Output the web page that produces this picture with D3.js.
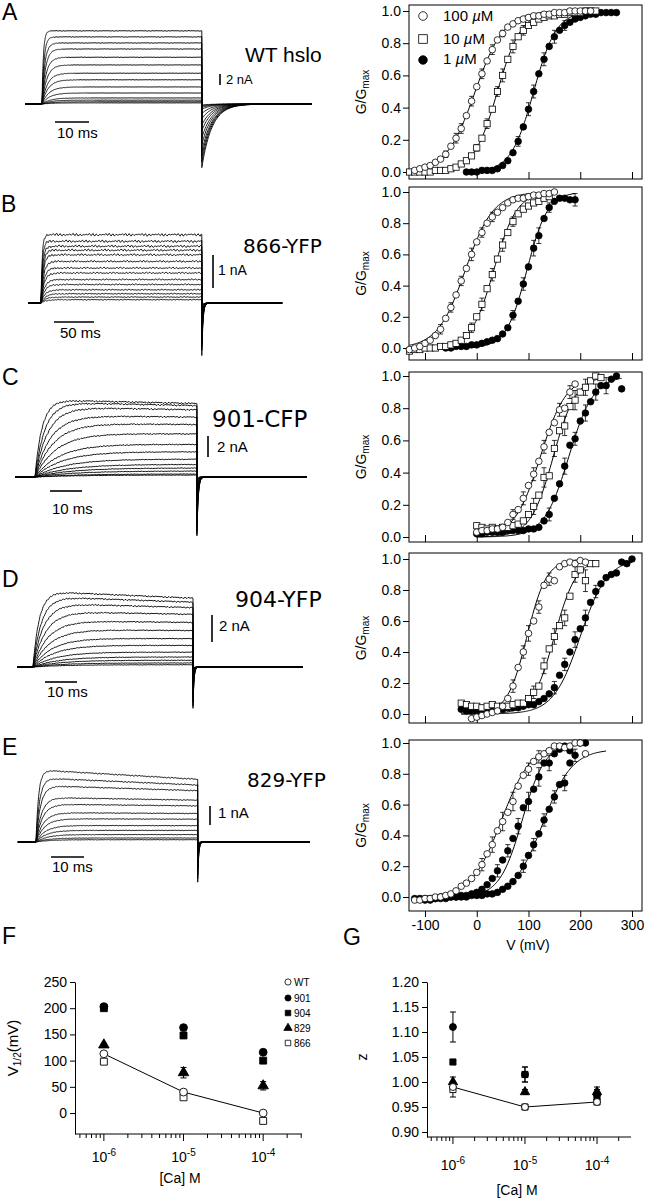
<!DOCTYPE html>
<html>
<head>
<meta charset="utf-8">
<script src="https://d3js.org/d3.v7.min.js"></script>
<style>
body { margin: 0; background: #fff; }
svg { display: block; }
</style>
</head>
<body>
<svg id="fig" width="645" height="1199"></svg>
<script>
// ---------- current traces (A-E, left) ----------
// end-of-pulse amplitude of each trace, nA, largest first
const ampA = [13.3, 12.2, 11.1, 10.0, 8.5, 7.1, 5.6, 4.4, 3.1, 2.0, 1.1, 0.7, 0.4, 0.2];
const ampB = [2.07, 1.87, 1.72, 1.6, 1.46, 1.26, 1.06, 0.91, 0.71, 0.56, 0.4, 0.28, 0.18, 0.1];
const ampC = [7.0, 6.8, 6.4, 5.7, 5.0, 4.1, 3.1, 2.4, 1.7, 1.2, 0.86, 0.57, 0.29, 0.19];
const ampD = [5.1, 4.8, 4.4, 3.9, 3.3, 2.7, 2.1, 1.6, 1.1, 0.74, 0.5, 0.3, 0.17];
const ampE = [3.3, 3.0, 2.7, 2.2, 1.9, 1.5, 1.2, 0.86, 0.61, 0.39, 0.21, 0.12];
// kinetics
const pulseMs = [47, 201, 50.6, 50, 49];
const tauAct = [[0.4, 3], [1.5, 6], [2.2, 14], [2, 10], [0.8, 4]];   // top / bottom trace, ms
const sagTop = [0.0, 0.0, 0.05, 0.1, 0.15];
const tailRatio = [0.87, 0.77, 0.8, 0.6, 0.64];
const tailTau = [3, 1.5, 0.4, 0.3, 0.3];
const noiseNa = [0.08, 0.05, 0.1, 0.07, 0.04];
const traceNames = ["WT hslo", "866-YFP", "901-CFP", "904-YFP", "829-YFP"];
const barNa = [2, 1, 2, 2, 1];
const barMs = [10, 50, 10, 10, 10];

// ---------- G/Gmax vs V (right) ----------
const vStep = 10;
const A_g100 = [0.01,0.02,0.03,0.04,0.06,0.08,0.11,0.16,0.21,0.27,0.35,0.44,0.53,0.61,0.69,0.76,0.82,0.86,0.9,0.92,0.94,0.95,0.96,0.97,0.97,0.98,0.98,0.99,0.99,0.99,1.0,1.0,1.0,1.0,1.0];
const A_g10 = [0,0,0,0,0,0.01,0.01,0.01,0.02,0.03,0.05,0.07,0.1,0.15,0.21,0.3,0.39,0.5,0.6,0.7,0.78,0.84,0.88,0.91,0.93,0.95,0.96,0.97,0.97,0.98,0.98,0.99,0.99,0.99,1.0,1.0,1.0];
const A_g1 = [0,0,0,0.01,0.01,0.01,0.02,0.04,0.07,0.12,0.19,0.28,0.39,0.5,0.61,0.7,0.78,0.84,0.88,0.91,0.93,0.95,0.96,0.97,0.98,0.98,0.99,0.99,0.99,0.99];
const B_g100 = [-0.01,0,0.01,0.03,0.05,0.08,0.12,0.19,0.26,0.34,0.43,0.51,0.6,0.68,0.74,0.8,0.84,0.87,0.9,0.93,0.95,0.96,0.96,0.97,0.98,0.98,0.99,0.99,1.0];
const B_g10 = [-0.02,-0.01,-0.01,0,0,0,0.01,0.01,0.02,0.03,0.05,0.08,0.13,0.2,0.28,0.38,0.47,0.57,0.66,0.74,0.81,0.86,0.89,0.91,0.93,0.94,0.96,0.97];
const B_g1 = [0,0,0.01,0.01,0.01,0.02,0.02,0.03,0.04,0.05,0.06,0.09,0.13,0.21,0.3,0.41,0.52,0.64,0.72,0.83,0.9,0.94,0.96,0.96,0.95,0.95];
const C_g100 = [0.03,0.04,0.04,0.05,0.05,0.06,0.09,0.14,0.17,0.24,0.32,0.39,0.47,0.56,0.65,0.71,0.79,0.8,0.9,0.95];
const C_g10 = [0.07,0.06,0.05,0.06,0.05,0.06,0.06,0.07,0.08,0.1,0.14,0.19,0.26,0.37,0.38,0.55,0.66,0.69,0.81,0.85,0.9,0.93,0.97,1.0,0.99];
const C_g1 = [0.02,0.02,0.03,0.03,0.03,0.03,0.04,0.04,0.04,0.04,0.05,0.05,0.06,0.1,0.14,0.24,0.33,0.44,0.57,0.61,0.72,0.77,0.84,0.9,0.94,0.94,0.98,1.0,0.92];
const D_g100 = [-0.03,-0.02,-0.01,0,0.01,0.02,0.05,0.1,0.18,0.3,0.4,0.52,0.6,0.69,0.83,0.87,0.86,0.95,0.97,0.98,0.97,0.99,0.98];
const D_g10 = [0.07,0.06,0.05,0.05,0.04,0.05,0.06,0.05,0.05,0.05,0.06,0.07,0.07,0.1,0.14,0.18,0.31,0.42,0.5,0.57,0.62,0.76,0.9,0.93,0.86,0.97,0.97];
const D_g1 = [0.03,0.02,0.02,0.02,0.02,0.03,0.03,0.03,0.03,0.04,0.04,0.04,0.05,0.06,0.06,0.08,0.1,0.13,0.17,0.25,0.32,0.4,0.48,0.55,0.62,0.72,0.79,0.84,0.88,0.9,0.91,0.98,0.97,1.0];
const E_g100 = [-0.02,-0.02,-0.01,-0.01,0,0,0.01,0.02,0.04,0.07,0.09,0.12,0.16,0.21,0.28,0.34,0.43,0.49,0.55,0.62,0.72,0.79,0.83,0.88,0.91,0.93,0.95,0.98,0.98,0.97,0.98,1.0,1.0,0.93];
const E_gMid = [-0.01,-0.01,-0.02,-0.01,-0.01,0,-0.01,0,0,0.01,0.01,0.02,0.03,0.05,0.08,0.12,0.17,0.24,0.3,0.38,0.46,0.58,0.62,0.7,0.78,0.87,0.87,0.93,0.96,0.98,0.95];
const E_g1 = [-0.01,-0.02,-0.01,-0.01,0,0,0,0,0,0.01,0.01,0.01,0.02,0.02,0.03,0.05,0.07,0.1,0.14,0.2,0.27,0.34,0.41,0.5,0.57,0.65,0.73,0.74,0.87,0.92,1.0,1.0];
// first voltage of each series (mV)
const gvStart = [[-120, -130, -20], [-130, -130, -60], [0, 0, 0], [-10, -30, -30], [-120, -120, -100]];
// Boltzmann fits: V1/2, slope k, Gmax, V from, V to
const gvFit = [
  [[-3, 28, 1, -120, 220], [40, 23, 1, -130, 230], [110, 22, 1, -20, 270]],
  [[-22, 27, 1, -130, 150], [33, 22, 1, -130, 140], [97, 20, 1, -60, 190]],
  [[123, 25, 1, 0, 190], [148, 22, 1, 0, 240], [178, 24, 1, 0, 280]],
  [[97, 19, 1, -10, 210], [150, 21, 1, -30, 230], [200, 26, 1, -30, 300]],
  [[48, 29, 1, -120, 210], [88, 22, 1, -120, 180], [128, 28, 0.96, -100, 250]]
];
// error bars: [V, sem]
const gvErr = [
  [[[-60,0.02],[-40,0.03],[-30,0.03],[-10,0.03],[10,0.03],[30,0.03],[50,0.02]],
   [[0,0.02],[20,0.03],[40,0.03],[50,0.04],[70,0.04],[90,0.03]],
   [[80,0.03],[100,0.04],[110,0.04],[130,0.04],[150,0.04],[170,0.03]]],
  [[[-70,0.03],[-50,0.03],[-30,0.03],[-10,0.04],[10,0.03],[30,0.03]],
   [[-10,0.03],[10,0.04],[30,0.04],[50,0.04],[70,0.03]],
   [[70,0.03],[90,0.04],[110,0.05],[120,0.05],[140,0.03],[190,0.04]]],
  [[[70,0.03],[90,0.04],[110,0.04],[130,0.04],[160,0.04],[180,0.04]],
   [[110,0.05],[130,0.06],[150,0.05],[170,0.06],[190,0.06],[210,0.05]],
   [[140,0.04],[170,0.05],[190,0.04],[210,0.05],[230,0.05],[250,0.05]]],
  [[[70,0.04],[90,0.04],[100,0.05],[120,0.04],[140,0.04]],
   [[110,0.04],[130,0.05],[150,0.05],[170,0.05],[190,0.05],[210,0.07]],
   [[150,0.04],[170,0.04],[190,0.05],[210,0.05],[230,0.04]]],
  [[[10,0.04],[30,0.05],[50,0.06],[70,0.06],[100,0.04],[120,0.04]],
   [[40,0.04],[60,0.04],[80,0.05],[100,0.06],[120,0.06],[140,0.05]],
   [[90,0.04],[110,0.04],[130,0.04],[150,0.04],[170,0.05],[190,0.04]]]
];
const gvSeries = [[A_g100, A_g10, A_g1], [B_g100, B_g10, B_g1], [C_g100, C_g10, C_g1], [D_g100, D_g10, D_g1], [E_g100, E_gMid, E_g1]];
const gvMarks = [["open", "sq", "fill"], ["open", "sq", "fill"], ["open", "sq", "fill"], ["open", "sq", "fill"], ["open", "fill", "fill"]];
const gvTicksV = [-100, 0, 100, 200, 300];
const gvTicksG = [0, 0.2, 0.4, 0.6, 0.8, 1.0];
const legendGV = ["100 \u00b5M", "10 \u00b5M", "1 \u00b5M"];

// ---------- F / G ----------
const caConc = [1e-6, 1e-5, 1e-4];
const mutNames = ["WT", "901", "904", "829", "866"];
const vhWT = [113, 40, 0], vh901 = [203, 163, 116], vh904 = [200, 148, 100], vh829 = [130, 77, 52], vh866 = [98, 30, -15];
const vhErrWT = [3, 3, 3], vhErr901 = [3, 3, 3], vhErr904 = [3, 3, 3], vhErr829 = [3, 10, 8], vhErr866 = [3, 3, 3];
const zWT = [0.99, 0.95, 0.96], z901 = [1.11, 1.015, 0.975], z904 = [1.04, 1.015, 0.97], z829 = [1.0, 0.98, 0.98], z866 = [0.985, 0.95, 0.96];
const zErrWT = [0.01, 0.003, 0.005], zErr901 = [0.03, 0.015, 0.01], zErr904 = [0.005, 0.015, 0.01], zErr829 = [0.01, 0.005, 0.01], zErr866 = [0.015, 0.003, 0.005];
const vhTicks = [0, 50, 100, 150, 200, 250];
const zTicks = [0.90, 0.95, 1.00, 1.05, 1.10, 1.15, 1.20];

// ================= drawing =================
const SANS = "'Liberation Sans', Arial, Helvetica, sans-serif";
const DJV = "'DejaVu Sans', Verdana, sans-serif";
const svg = d3.select("#fig").attr("font-family", SANS);
svg.append("rect").attr("width", 645).attr("height", 1199).attr("fill", "#fff");

// panel letters
const letters = [["A", 2, 20], ["B", 1, 212], ["C", 2, 385], ["D", 2, 587], ["E", 2, 755], ["F", 2, 944], ["G", 343, 945]];
letters.forEach(l => svg.append("text").attr("x", l[1]).attr("y", l[2]).attr("font-size", 23).text(l[0]));

// ---- traces ----
const traceLayout = [
  {x0: 42, pxMs: 3.4, base: 104, pxNa: 5.5, t: [-5, 79.7], naBar: [220, 85], naText: [226, 84, 13], msBar: [55, 122], msText: [57, 138], name: [245, 62, 21, SANS]},
  {x0: 41, pxMs: 0.8, base: 303, pxNa: 33, t: [-16, 302], naBar: [213, 288], naText: [218, 275, 14], msBar: [54, 322], msText: [60, 338], name: [243, 253, 20, DJV]},
  {x0: 35, pxMs: 3.2, base: 477, pxNa: 10.5, t: [-6.25, 85.3], naBar: [208, 457], naText: [217, 452, 15], msBar: [50, 491], msText: [52, 514], name: [212, 427, 23, DJV]},
  {x0: 33, pxMs: 3.2, base: 667, pxNa: 13.5, t: [-5, 84.4], naBar: [212, 642], naText: [219, 631, 15], msBar: [45, 682], msText: [47, 697], name: [235, 607, 22, DJV]},
  {x0: 36, pxMs: 3.3, base: 842, pxNa: 19, t: [-5.5, 83], naBar: [210, 825], naText: [218, 818, 15], msBar: [51, 857], msText: [52, 872], name: [247, 787, 20, DJV]}
];
const traceAmps = [ampA, ampB, ampC, ampD, ampE];

function wiggle(xp, j) {
  return 0.5 * Math.sin(1.91 * xp + 0.7 * j) + 0.3 * Math.sin(4.73 * xp + 1.9 * j) + 0.2 * Math.sin(0.37 * xp + 2.3 * j);
}

traceLayout.forEach((L, i) => {
  const amps = traceAmps[i];
  const x = d3.scaleLinear().domain([0, 1]).range([L.x0, L.x0 + L.pxMs]);
  const y = d3.scaleLinear().domain([0, 1]).range([L.base, L.base - L.pxNa]);
  const dur = pulseMs[i], tt = tailTau[i];
  const g = svg.append("g");
  const line = d3.line().x(d => x(d[0])).y(d => y(d[1]));
  amps.forEach((a, j) => {
    const frac = j / (amps.length - 1);
    const tau = tauAct[i][0] + (tauAct[i][1] - tauAct[i][0]) * frac;
    const rel = a / amps[0];
    const sag = sagTop[i] * rel * rel;
    const peak = a * (1 + sag);
    let ts = d3.range(L.t[0], L.t[1], 1 / L.pxMs)
      .concat(d3.range(0, Math.min(dur, 6 * tau), tau / 12))
      .concat(d3.range(dur, Math.min(L.t[1], dur + 8 * tt), tt / 12))
      .concat([-1e-6, 0, dur, dur + 1e-6]);
    ts = Array.from(new Set(ts)).sort((p, q) => p - q);
    const nAmp = noiseNa[i] * (0.3 + 0.7 * rel);
    const pts = ts.map(t => {
      let v;
      if (t < 0) v = 0;
      else if (t <= dur) v = peak * (1 - Math.exp(-t / tau)) * (1 - (sag / (1 + sag)) * (t / dur));
      else v = -tailRatio[i] * a * Math.exp(-(t - dur) / tt);
      const w = (t > 0 && t <= dur) ? nAmp : noiseNa[i] * 0.2;
      return [t, v + w * wiggle(x(t), j)];
    });
    g.append("path").datum(pts).attr("d", line)
      .attr("fill", "none").attr("stroke", "#000").attr("stroke-width", 0.9);
  });
  // scale bars
  const yb = d3.scaleLinear().domain([0, 1]).range([L.naBar[1], L.naBar[1] - L.pxNa]);
  g.append("line").attr("x1", L.naBar[0]).attr("x2", L.naBar[0]).attr("y1", yb(0)).attr("y2", yb(barNa[i]))
    .attr("stroke", "#000").attr("stroke-width", 1.6);
  g.append("text").attr("x", L.naText[0]).attr("y", L.naText[1]).attr("font-size", L.naText[2]).text(barNa[i] + " nA");
  const xb = d3.scaleLinear().domain([0, 1]).range([L.msBar[0], L.msBar[0] + L.pxMs]);
  g.append("line").attr("x1", xb(0)).attr("x2", xb(barMs[i])).attr("y1", L.msBar[1]).attr("y2", L.msBar[1])
    .attr("stroke", "#000").attr("stroke-width", 1.6);
  g.append("text").attr("x", L.msText[0]).attr("y", L.msText[1]).attr("font-size", 15).text(barMs[i] + " ms");
  g.append("text").attr("x", L.name[0]).attr("y", L.name[1]).attr("font-size", L.name[2])
    .attr("font-family", L.name[3]).text(traceNames[i]);
});

// ---- G/Gmax panels ----
const gvLayout = [
  {top: 5, bottom: 179, y0: 172, y1: 11},
  {top: 187, bottom: 360, y0: 348, y1: 192},
  {top: 372, bottom: 542, y0: 537, y1: 376},
  {top: 553, bottom: 723, y0: 714, y1: 559},
  {top: 740, bottom: 911, y0: 897, y1: 743}
];
const frameL = 409, frameR = 642;
const gvX = d3.scaleLinear().domain([-100, 300]).range([425, 632]);

function drawMark(g, type, cx, cy, s) {
  if (type === "sq") {
    g.append("rect").attr("x", cx - s).attr("y", cy - s).attr("width", 2 * s).attr("height", 2 * s)
      .attr("fill", "#fff").attr("stroke", "#000").attr("stroke-width", 0.8);
  } else {
    g.append("circle").attr("cx", cx).attr("cy", cy).attr("r", s)
      .attr("fill", type === "fill" ? "#000" : "#fff").attr("stroke", "#000").attr("stroke-width", 0.8);
  }
}

gvLayout.forEach((L, i) => {
  const y = d3.scaleLinear().domain([0, 1]).range([L.y0, L.y1]);
  const g = svg.append("g");
  g.append("rect").attr("x", frameL).attr("y", L.top).attr("width", frameR - frameL).attr("height", L.bottom - L.top)
    .attr("fill", "none").attr("stroke", "#000").attr("stroke-width", 1);
  g.append("g").attr("transform", `translate(${frameL},0)`)
    .call(d3.axisLeft(y).tickValues(gvTicksG).tickFormat(d3.format(".1f")).tickSize(6).tickPadding(2))
    .call(a => a.select(".domain").remove())
    .attr("font-size", 14).attr("font-family", SANS);
  const last = i === gvLayout.length - 1;
  g.append("g").attr("transform", `translate(0,${L.bottom})`)
    .call(d3.axisBottom(gvX).tickValues(gvTicksV).tickSize(last ? 6 : -7).tickPadding(3)
      .tickFormat(last ? (d => String(d)) : () => ""))
    .call(a => a.select(".domain").remove())
    .attr("font-size", 14).attr("font-family", SANS);
  g.append("text").attr("transform", `translate(366,${(L.top + L.bottom) / 2}) rotate(-90)`)
    .attr("text-anchor", "middle").attr("font-size", 14)
    .call(t => { t.append("tspan").text("G/G"); t.append("tspan").attr("dy", 3).attr("font-size", 10).text("max"); });

  const order = [2, 1, 0];
  // fit lines
  order.forEach(c => {
    const f = gvFit[i][c];
    const pts = d3.range(f[3], f[4] + 0.1, 2).map(v => [v, f[2] / (1 + Math.exp(-(v - f[0]) / f[1]))]);
    g.append("path").datum(pts).attr("d", d3.line().x(d => gvX(d[0])).y(d => y(d[1])))
      .attr("fill", "none").attr("stroke", "#000").attr("stroke-width", 1);
  });
  // error bars
  order.forEach(c => {
    const data = gvSeries[i][c], v0 = gvStart[i][c];
    gvErr[i][c].forEach(([v, e]) => {
      const k = Math.round((v - v0) / vStep);
      if (k < 0 || k >= data.length) return;
      const cx = gvX(v), gv = data[k];
      [gv - e, gv + e].forEach(end => {
        g.append("line").attr("x1", cx).attr("x2", cx).attr("y1", y(gv)).attr("y2", y(end)).attr("stroke", "#000").attr("stroke-width", 0.8);
        g.append("line").attr("x1", cx - 2.5).attr("x2", cx + 2.5).attr("y1", y(end)).attr("y2", y(end)).attr("stroke", "#000").attr("stroke-width", 0.8);
      });
    });
  });
  // points
  order.forEach(c => {
    const data = gvSeries[i][c], v0 = gvStart[i][c];
    data.forEach((gv, k) => drawMark(g, gvMarks[i][c], gvX(v0 + k * vStep), y(gv), gvMarks[i][c] === "sq" ? 3.1 : 3.3));
  });
});

// legend in A
const legY = [16, 39, 60], legBase = [21, 44, 64];
legendGV.forEach((lab, k) => {
  drawMark(svg, gvMarks[0][k], 423, legY[k], 4.3);
  const parts = lab.split("\u00b5");
  const t = svg.append("text").attr("x", 443).attr("y", legBase[k]).attr("font-size", 15);
  t.append("tspan").text(parts[0]);
  t.append("tspan").attr("font-style", "italic").text("\u00b5");
  t.append("tspan").text(parts[1]);
});
svg.append("text").attr("x", 528).attr("y", 950).attr("font-size", 14).attr("text-anchor", "middle").text("V (mV)");

// ---- F and G ----
function logTicks(dom) {
  const out = [];
  for (let e = -7; e <= -3; e++) for (let m = 1; m <= 9; m++) {
    const v = m * Math.pow(10, e);
    if (v >= dom[0] && v <= dom[1]) out.push({v: v, major: m === 1});
  }
  return out;
}
const caSymbols = {
  oc: {type: d3.symbolCircle, fill: "#fff"},
  fc: {type: d3.symbolCircle, fill: "#000"},
  fs: {type: d3.symbolSquare, fill: "#000"},
  tr: {type: d3.symbolTriangle, fill: "#000"},
  os: {type: d3.symbolSquare, fill: "#fff"}
};
const mutMarks = ["oc", "fc", "fs", "tr", "os"];

function drawCa(C) {
  const x = d3.scaleLog().domain(C.xDom).range([C.x0, C.x1]);
  const y = d3.scaleLinear().domain(C.yDom).range([C.yBot, C.yTop]);
  const g = svg.append("g");
  g.append("g").attr("transform", `translate(${C.x0},0)`)
    .call(d3.axisLeft(y).tickValues(C.yTicks).tickFormat(C.fmt).tickSize(5).tickSizeOuter(0).tickPadding(3))
    .attr("font-size", 14).attr("font-family", SANS);
  g.append("line").attr("x1", C.x0).attr("x2", C.x1).attr("y1", C.yBot).attr("y2", C.yBot).attr("stroke", "#000");
  logTicks(C.xDom).forEach(t => g.append("line").attr("x1", x(t.v)).attr("x2", x(t.v))
    .attr("y1", C.yBot).attr("y2", C.yBot + (t.major ? 7 : 4)).attr("stroke", "#000"));
  caConc.forEach(c => {
    const tx = g.append("text").attr("x", x(c)).attr("y", C.labelY).attr("text-anchor", "middle").attr("font-size", 14);
    tx.append("tspan").text("10");
    tx.append("tspan").attr("dy", -6).attr("font-size", 10).text(Math.round(Math.log10(c)));
  });
  g.append("text").attr("x", C.caLabel[0]).attr("y", C.caLabel[1]).attr("text-anchor", "middle").attr("font-size", 14).text("[Ca] M");
  // WT connecting line
  g.append("path").datum(C.vals[0]).attr("d", d3.line().x((d, k) => x(caConc[k])).y(d => y(d)))
    .attr("fill", "none").attr("stroke", "#000").attr("stroke-width", 1);
  // draw order: 866, 829, 904, 901, WT
  [4, 3, 2, 1, 0].forEach(s => {
    C.vals[s].forEach((v, k) => {
      const e = C.errs[s][k], cx = x(caConc[k]);
      [v - e, v + e].forEach(end => {
        g.append("line").attr("x1", cx).attr("x2", cx).attr("y1", y(v)).attr("y2", y(end)).attr("stroke", "#000");
        g.append("line").attr("x1", cx - 3).attr("x2", cx + 3).attr("y1", y(end)).attr("y2", y(end)).attr("stroke", "#000");
      });
    });
  });
  [4, 3, 2, 1, 0].forEach(s => {
    const m = caSymbols[mutMarks[s]];
    C.vals[s].forEach((v, k) => {
      g.append("path").attr("d", d3.symbol().type(m.type).size(C.size)())
        .attr("transform", `translate(${x(caConc[k])},${y(v)})`)
        .attr("fill", m.fill).attr("stroke", "#000").attr("stroke-width", 0.9);
    });
  });
  return g;
}

drawCa({x0: 75, x1: 302, yTop: 982, yBot: 1134, xDom: [Math.pow(10, -6.3625), Math.pow(10, -3.5125)],
  yDom: [-40, 250], yTicks: vhTicks, fmt: d3.format("d"), labelY: 1162, caLabel: [180, 1183], size: 48,
  vals: [vhWT, vh901, vh904, vh829, vh866], errs: [vhErrWT, vhErr901, vhErr904, vhErr829, vhErr866]});
drawCa({x0: 427, x1: 631, yTop: 982, yBot: 1137, xDom: [Math.pow(10, -6.36), Math.pow(10, -3.528)],
  yDom: [0.89, 1.20], yTicks: zTicks, fmt: d3.format(".2f"), labelY: 1170, caLabel: [517, 1195], size: 38,
  vals: [zWT, z901, z904, z829, z866], errs: [zErrWT, zErr901, zErr904, zErr829, zErr866]});

// axis titles
svg.append("text").attr("transform", "translate(18,1048) rotate(-90)").attr("text-anchor", "middle").attr("font-size", 15)
  .call(t => {
    t.append("tspan").text("V");
    t.append("tspan").attr("dy", 3).attr("font-size", 10).text("1/2");
    t.append("tspan").attr("dy", -3).text("(mV)");
  });
svg.append("text").attr("transform", "translate(367,1057) rotate(-90)").attr("text-anchor", "middle").attr("font-size", 14).text("z");

// legend in F
const legFY = [982, 998, 1013, 1028, 1043];
mutNames.forEach((n, k) => {
  const m = caSymbols[mutMarks[k]];
  svg.append("path").attr("d", d3.symbol().type(m.type).size(30)())
    .attr("transform", `translate(288,${legFY[k]})`).attr("fill", m.fill).attr("stroke", "#000").attr("stroke-width", 0.8);
  svg.append("text").attr("x", 294).attr("y", legFY[k] + 3.5).attr("font-size", 10).text(n);
});
</script>
</body>
</html>
